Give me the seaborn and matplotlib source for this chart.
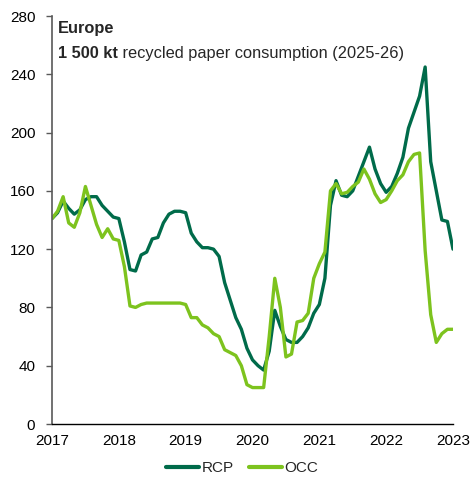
import numpy as np
import pandas as pd
import matplotlib
matplotlib.use("Agg")
import matplotlib.pyplot as plt
import seaborn as sns

# monthly index from Jan 2017
months = list(range(73))
rcp = [141, 145, 153, 148, 144, 147, 154, 156, 156, 150, 146, 142,
       141, 125, 106, 105, 116, 118, 127, 128, 138, 144, 146, 146,
       145, 131, 125, 121, 121, 120, 115, 97, 85, 73, 65, 52,
       44, 40, 37, 50, 78, 67, 58, 56, 56, 60, 66, 76,
       82, 100, 150, 167, 157, 156, 160, 170, 180, 190, 175, 165,
       159, 163, 172, 183, 203, 214, 225, 245, 180, 160, 140, 139,
       120]
occ = [141, 146, 156, 138, 135, 145, 163, 150, 137, 128, 134, 127,
       126, 108, 81, 80, 82, 83, 83, 83, 83, 83, 83, 83,
       82, 73, 73, 68, 66, 62, 60, 51, 49, 47, 40, 27,
       25, 25, 25, 60, 100, 80, 46, 48, 70, 71, 76, 100,
       110, 118, 160, 165, 158, 159, 163, 166, 175, 168, 158, 152,
       154, 160, 167, 171, 180, 185, 186, 119, 75, 56, 62, 65,
       65]
series_names = ["RCP", "OCC"]
year_ticks = [2017, 2018, 2019, 2020, 2021, 2022, 2023]
y_ticks = [0, 40, 80, 120, 160, 200, 240, 280]
title = "Europe"
sub_bold = "1 500 kt"
sub_rest = " recycled paper consumption (2025-26)"

x = [2017 + m / 12 for m in months]
df = pd.DataFrame({
    "date": x * 2,
    "value": rcp + occ,
    "series": ["RCP"] * len(x) + ["OCC"] * len(x),
})

sns.set_theme(style="white")
plt.rcParams["font.family"] = ["Liberation Sans", "DejaVu Sans"]

fig = plt.figure(figsize=(4.70, 4.79), dpi=100)
ax = fig.add_axes([52 / 470, 1 - 424 / 479, (453 - 52) / 470, (424 - 16) / 479])

palette = {"RCP": "#006B4A", "OCC": "#7DC31E"}
sns.lineplot(data=df, x="date", y="value", hue="series", hue_order=series_names,
             palette=palette, linewidth=2.4, ax=ax, legend=True)
for line in ax.get_lines():
    line.set_solid_joinstyle("round")
    line.set_solid_capstyle("round")

ax.set_xlim(2017, 2023)
ax.set_ylim(0, 280)
ax.set_xticks(year_ticks)
ax.set_xticklabels([str(y) for y in year_ticks], fontsize=11, color="#000000")
ax.set_yticks(y_ticks)
ax.set_yticklabels([str(v) for v in y_ticks], fontsize=11, color="#000000")
ax.set_xlabel("")
ax.set_ylabel("")
for s in ["top", "right"]:
    ax.spines[s].set_visible(False)
ax.spines["left"].set_color("#595959")
ax.spines["left"].set_linewidth(1.2)
ax.spines["bottom"].set_color("#000000")
ax.spines["bottom"].set_linewidth(1.0)
ax.tick_params(axis="y", which="major", left=True, length=4, width=1.0,
               color="#595959", pad=8)
ax.tick_params(axis="x", which="major", bottom=False, length=0, pad=7)
ax.grid(False)

t1 = ax.text(0.015, 0.970, title, transform=ax.transAxes, fontsize=11.8,
             fontweight="bold", va="center", ha="left")
tb = ax.text(0.015, 0.908, sub_bold, transform=ax.transAxes, fontsize=11.8,
             fontweight="bold", va="center", ha="left")
ax.annotate(sub_rest, xy=(1, 0), xycoords=tb, fontsize=11.8, va="bottom", ha="left")

leg = ax.legend(loc="center", bbox_to_anchor=(0.474, -0.108), ncol=2,
                frameon=False, fontsize=11, handlelength=2.2, handletextpad=0.15,
                columnspacing=1.0, borderaxespad=0, borderpad=0)
for line in leg.get_lines():
    line.set_linewidth(3)

fig.savefig("out.png", dpi=100)
